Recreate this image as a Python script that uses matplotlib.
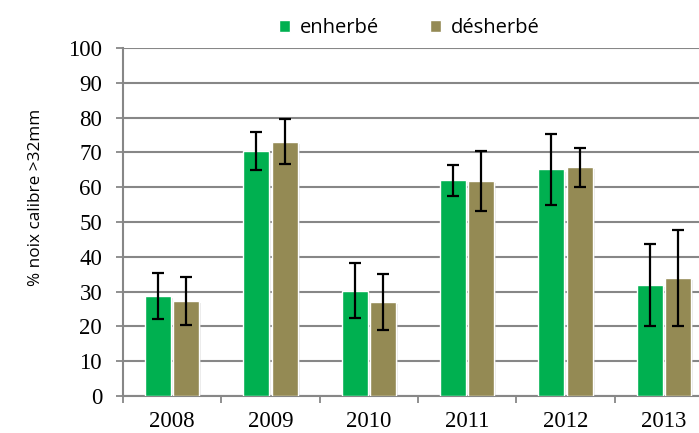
import matplotlib
matplotlib.use("Agg")
import matplotlib.pyplot as plt
import numpy as np

years = ["2008", "2009", "2010", "2011", "2012", "2013"]
enherbe = [28.7, 70.4, 30.3, 62.0, 65.1, 31.9]
enherbe_err = [6.7, 5.5, 7.8, 4.4, 10.3, 11.8]
desherbe = [27.3, 73.1, 27.1, 61.7, 65.7, 33.9]
desherbe_err = [6.8, 6.4, 8.1, 8.6, 5.6, 13.8]

GREEN = "#00B050"
OLIVE = "#948A54"
GRID = "#878787"

fig = plt.figure(figsize=(6.99, 4.33), dpi=100)
# plot area runs past the right edge of the picture, as in the original crop
ax = fig.add_axes([123 / 699, 37 / 433, 590 / 699, 348 / 433])

x = np.arange(len(years))
w = 0.265
off = 0.145
ekw = dict(ecolor="black", elinewidth=1.6, capsize=4.5, capthick=1.6, zorder=5)

# soft drop shadow behind the bars
for xs, vals in ((x - off, enherbe), (x + off, desherbe)):
    ax.bar(xs + 0.02, vals, w, bottom=-0.6, color="#bfbfbf", alpha=0.35,
           linewidth=0, zorder=2)

ax.bar(x - off, enherbe, w, yerr=enherbe_err, color=GREEN, edgecolor="white",
       linewidth=1.0, error_kw=ekw, label="enherbé", zorder=3)
ax.bar(x + off, desherbe, w, yerr=desherbe_err, color=OLIVE, edgecolor="white",
       linewidth=1.0, error_kw=ekw, label="désherbé", zorder=3)

ax.set_xlim(-0.5, len(years) - 0.5)
ax.set_ylim(0, 100)
ax.set_yticks(range(0, 101, 10))
ax.set_xticks(x)
ax.set_xticklabels(years)
ax.set_xticks(np.arange(-0.5, len(years), 1.0), minor=True)
ax.tick_params(axis="x", which="major", length=0, pad=11)
ax.tick_params(axis="x", which="minor", length=5, width=1.3, color=GRID)
ax.tick_params(axis="y", length=5, width=1.3, color=GRID, pad=10)
for lab in ax.get_xticklabels() + ax.get_yticklabels():
    lab.set_fontfamily("Liberation Serif")
    lab.set_fontsize(16.5)

ax.yaxis.grid(True, color=GRID, linewidth=1.5, zorder=0)
ax.set_axisbelow(True)
for side in ("top", "right"):
    ax.spines[side].set_visible(False)
for side in ("left", "bottom"):
    ax.spines[side].set_color(GRID)
    ax.spines[side].set_linewidth(1.5)

ax.set_ylabel("% noix calibre >32mm", fontfamily="Open Sans", fontsize=12.3)
ax.yaxis.set_label_coords(-0.134, 0.57)

fig.legend(loc="upper left", bbox_to_anchor=(261 / 699, 1.0), ncol=2,
           frameon=False, handlelength=0.55, handleheight=0.55,
           handletextpad=0.5, columnspacing=2.5,
           prop={"family": "Open Sans", "size": 14.5})

fig.savefig("out.png", dpi=100)
